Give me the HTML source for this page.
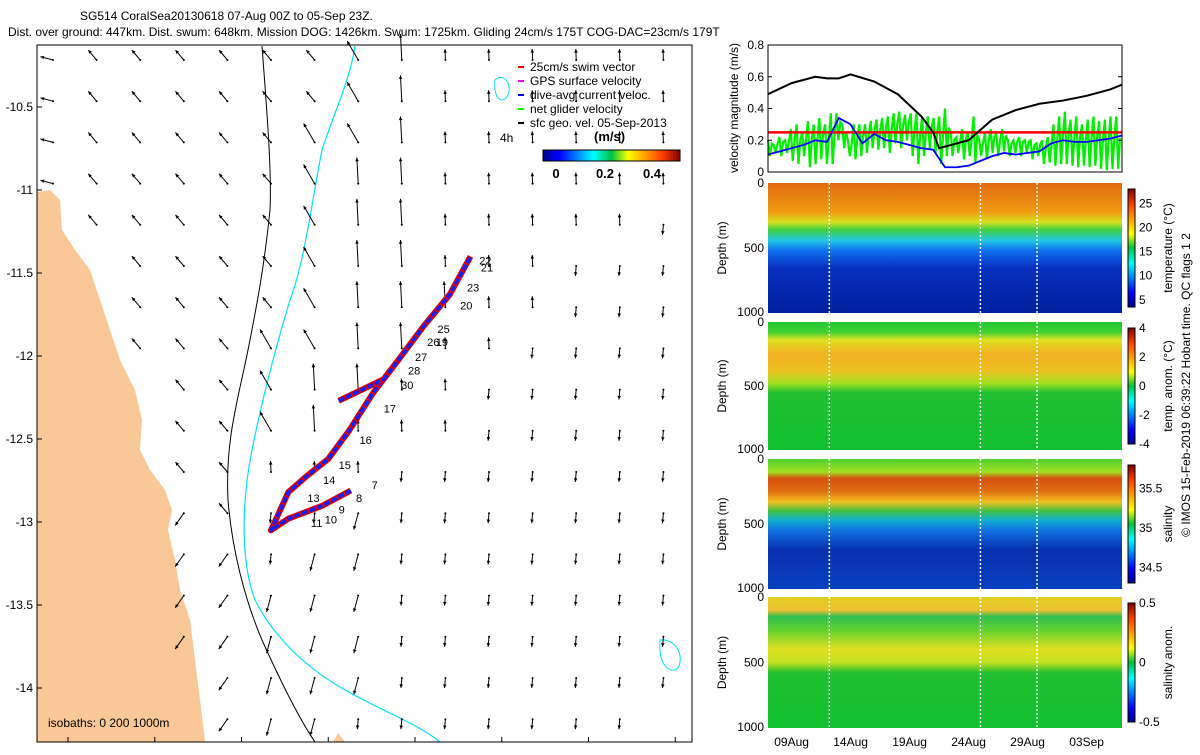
<!DOCTYPE html>
<html><head><meta charset="utf-8"><style>
body{margin:0;background:#fff;}
svg{font-family:"Liberation Sans",sans-serif;font-size:12px;}
</style></head><body>
<svg id="s" width="1200" height="750" viewBox="0 0 1200 750">
<defs>
<linearGradient id="jet" x1="0" x2="1" y1="0" y2="0">
<stop offset="0" stop-color="#00008f"/><stop offset="0.12" stop-color="#0000ff"/><stop offset="0.37" stop-color="#00ffff"/><stop offset="0.5" stop-color="#00c040"/><stop offset="0.62" stop-color="#ffff00"/><stop offset="0.87" stop-color="#ff4000"/><stop offset="1" stop-color="#800000"/></linearGradient>
<linearGradient id="jetv" x1="0" x2="0" y1="1" y2="0">
<stop offset="0" stop-color="#00008f"/><stop offset="0.12" stop-color="#0000ff"/><stop offset="0.37" stop-color="#00ffff"/><stop offset="0.5" stop-color="#00c040"/><stop offset="0.62" stop-color="#ffff00"/><stop offset="0.87" stop-color="#ff4000"/><stop offset="1" stop-color="#800000"/></linearGradient>
<linearGradient id="gT" x1="0" x2="0" y1="0" y2="1">
<stop offset="0" stop-color="#e06a10"/><stop offset="0.22" stop-color="#f09a10"/><stop offset="0.3" stop-color="#d8e020"/><stop offset="0.36" stop-color="#40d040"/><stop offset="0.44" stop-color="#20c8e0"/><stop offset="0.52" stop-color="#1070f0"/><stop offset="0.65" stop-color="#0830c0"/><stop offset="1" stop-color="#0020a0"/></linearGradient>
<linearGradient id="gTA" x1="0" x2="0" y1="0" y2="1">
<stop offset="0" stop-color="#20c830"/><stop offset="0.08" stop-color="#40d030"/><stop offset="0.14" stop-color="#e0e020"/><stop offset="0.25" stop-color="#f0b020"/><stop offset="0.38" stop-color="#f0c020"/><stop offset="0.48" stop-color="#a0e020"/><stop offset="0.55" stop-color="#20c030"/><stop offset="1" stop-color="#10c030"/></linearGradient>
<linearGradient id="gS" x1="0" x2="0" y1="0" y2="1">
<stop offset="0" stop-color="#50d030"/><stop offset="0.1" stop-color="#a0e020"/><stop offset="0.15" stop-color="#d85010"/><stop offset="0.25" stop-color="#e07010"/><stop offset="0.33" stop-color="#f0c020"/><stop offset="0.4" stop-color="#40c040"/><stop offset="0.47" stop-color="#10b0d0"/><stop offset="0.55" stop-color="#1070e0"/><stop offset="0.7" stop-color="#0830b0"/><stop offset="1" stop-color="#0840c0"/></linearGradient>
<linearGradient id="gSA" x1="0" x2="0" y1="0" y2="1">
<stop offset="0" stop-color="#e0d020"/><stop offset="0.1" stop-color="#f0c030"/><stop offset="0.15" stop-color="#30c050"/><stop offset="0.25" stop-color="#60d030"/><stop offset="0.4" stop-color="#e0e020"/><stop offset="0.5" stop-color="#c0e020"/><stop offset="0.58" stop-color="#20c030"/><stop offset="1" stop-color="#10c030"/></linearGradient>
</defs>

<text x="80" y="20">SG514 CoralSea20130618 07-Aug 00Z to 05-Sep 23Z.</text>
<text x="8" y="36">Dist. over ground: 447km. Dist. swum: 648km. Mission DOG: 1426km. Swum: 1725km. Gliding 24cm/s 175T COG-DAC=23cm/s 179T</text>

<g>
<polygon fill="#f9c896" points="37,192 50,190 60,200 62,230 75,250 90,270 100,300 110,330 120,360 135,390 142,420 140,450 150,470 165,490 172,510 168,530 175,560 180,590 190,620 195,660 200,700 205,742 37,742"/>
<polygon fill="#f9c896" points="333,742 338,733 345,742"/>
<path d="M262,46 C266,100 272,170 270,210 C265,260 258,300 248,350 C238,400 225,440 228,500 C232,550 245,600 262,640 C280,680 300,720 315,742" fill="none" stroke="#000" stroke-width="1"/>
<path d="M355,46 C350,80 335,110 322,150 C312,200 305,260 290,300 C275,350 262,400 252,450 C242,500 240,560 255,600 C275,640 310,670 345,690 C380,710 420,725 440,742" fill="none" stroke="#00e0ff" stroke-width="1.2"/>
<path d="M495,80 C505,72 512,85 508,95 C503,105 493,100 495,80Z" fill="none" stroke="#00e0ff"/>
<path d="M660,640 C675,638 685,655 678,668 C670,675 658,665 660,640Z" fill="none" stroke="#00e0ff"/>
<g id="arrows"></g>
<g id="track"></g>
<rect x="37" y="45" width="655" height="697" fill="none" stroke="#000"/>
<g id="mapticks"></g>
<text x="48" y="727">isobaths: 0   200   1000m</text>
<g>
<line x1="518" y1="67" x2="524" y2="67" stroke="#f00" stroke-width="2"/><text x="530" y="71">25cm/s swim vector</text>
<line x1="518" y1="81" x2="524" y2="81" stroke="#f0f" stroke-width="2"/><text x="530" y="85">GPS surface velocity</text>
<line x1="518" y1="95" x2="524" y2="95" stroke="#00f" stroke-width="2"/><text x="530" y="99">dive-avg current veloc.</text>
<line x1="518" y1="109" x2="524" y2="109" stroke="#0f0" stroke-width="2"/><text x="530" y="113">net glider velocity</text>
<line x1="518" y1="123" x2="524" y2="123" stroke="#000" stroke-width="2"/><text x="530" y="127">sfc geo. vel. 05-Sep-2013</text>
<text x="500" y="142">4h</text>
<text x="594" y="141" font-weight="bold" font-size="13">(m/s)</text>
<rect x="543" y="150" width="137" height="11" fill="url(#jet)" stroke="#000"/>
<text x="556" y="178" text-anchor="middle" font-weight="bold" font-size="13">0</text>
<text x="605" y="178" text-anchor="middle" font-weight="bold" font-size="13">0.2</text>
<text x="652" y="178" text-anchor="middle" font-weight="bold" font-size="13">0.4</text>
</g>
</g>

<g>
<g id="vel"></g>
<rect x="768" y="45" width="354" height="127" fill="none" stroke="#000"/>
<g id="velticks"></g>
<text transform="translate(738,108) rotate(-90)" text-anchor="middle">velocity magnitude (m/s)</text>
</g>

<g id="panels"></g>
<text transform="translate(1190,385) rotate(-90)" text-anchor="middle">© IMOS 15-Feb-2019 06:39:22 Hobart time. QC flags 1  2</text>
</svg>
<script>
const NS="http://www.w3.org/2000/svg";
function mk(t,a,p){const e=document.createElementNS(NS,t);for(const k in a)e.setAttribute(k,a[k]);(p||document.getElementById('s')).appendChild(e);return e;}

const lonTicks=[143,143.5,144,144.5,145,145.5,146,146.5];
const latTicks=[-10.5,-11,-11.5,-12,-12.5,-13,-13.5,-14];
const lonPx=l=>68+(l-143)*173.5;
const latPx=l=>107-(l+10.5)*166;
const mt=document.getElementById('mapticks');
lonTicks.forEach(l=>{const x=lonPx(l);
 mk('line',{x1:x,x2:x,y1:742,y2:737,stroke:'#000'},mt);
 const t=mk('text',{x:x,y:760,'text-anchor':'middle'},mt);t.textContent=l;
 
 });
latTicks.forEach(l=>{const y=latPx(l);
 mk('line',{x1:37,x2:42,y1:y,y2:y,stroke:'#000'},mt);
 const t=mk('text',{x:33,y:y+4,'text-anchor':'end'},mt);t.textContent=l;
 
 });

const arrowRows=[
"hbbbbbbacdddddd","hbbbbbbacdddddd","hbbbbbaacdddddd","hbbbbbaccdddddd",
".bbbbbaccddddde","..bbbbaccdddeee","..bbbbacccddeee","..bbbaaccddeeee",
"...bbaccddeeeee","...bbacdddeeeee","...bbdddeeeeeee","...gbeefeeeeeee",
"...ggeffeeeeeee","...ggfffeeeeeee","...ggfffeeeeeee","....gfffeeeeeee","....gffeeeeeee."];
const arrowCodes={a:[120,22],b:[130,13],c:[93,26],d:[92,11],e:[-95,10],f:[-105,17],g:[-125,15],h:[165,13]};
const ag=document.getElementById('arrows');
arrowRows.forEach((row,j)=>{[...row].forEach((c,i)=>{
 if(!arrowCodes[c])return;
 const x=53+i*43.6,y=60+j*41.2,[ang,L]=arrowCodes[c],r=ang*Math.PI/180;
 const x2=x+L*Math.cos(r),y2=y-L*Math.sin(r);
 const g=mk('g',{},ag);
 
 
 mk('line',{x1:x,y1:y,x2:x2,y2:y2,stroke:'#000','stroke-width':1},g);
 const a1=r+Math.PI-0.45,a2=r+Math.PI+0.45;
 mk('polygon',{points:`${x2},${y2} ${x2+4*Math.cos(a1)},${y2-4*Math.sin(a1)} ${x2+4*Math.cos(a2)},${y2-4*Math.sin(a2)}`,fill:'#000'},g);
 mk('circle',{cx:x,cy:y,r:1,fill:'#000'},g);
});});

const trackLon=[144.63,144.47,144.27,144.17,144.27,144.38,144.5,144.62,144.76,144.9,145.05,145.2,145.32];
const trackLat=[-12.81,-12.9,-12.98,-13.05,-12.82,-12.72,-12.62,-12.45,-12.22,-12.03,-11.82,-11.63,-11.4];
const branchLon=[144.56,144.7,144.82];
const branchLat=[-12.27,-12.2,-12.14];
const tg=document.getElementById('track');
function poly(lo,la,name){
 const pts=lo.map((l,i)=>lonPx(l)+','+latPx(la[i])).join(' ');
 const b=mk('polyline',{points:pts,fill:'none',stroke:'#e00000','stroke-width':6,'stroke-linejoin':'round'},tg);
 
 
 const p=mk('polyline',{points:pts,fill:'none',stroke:'#1020ff','stroke-width':3.5,'stroke-linejoin':'round','stroke-dasharray':'6 2'},tg);
 
 }
poly(trackLon,trackLat,'glider-track');
poly(branchLon,branchLat,'glider-track-branch');
const dayLabels=["22","21","23","20","25","26","19","27","28","30","17","16","15","14","13","7","8","9","10","11"];
const dayLon=[145.37,145.38,145.3,145.26,145.13,145.07,145.12,145.0,144.96,144.92,144.82,144.68,144.56,144.47,144.38,144.75,144.66,144.56,144.48,144.4];
const dayLat=[-11.45,-11.49,-11.61,-11.72,-11.86,-11.94,-11.94,-12.03,-12.11,-12.2,-12.34,-12.53,-12.68,-12.77,-12.88,-12.8,-12.88,-12.95,-13.01,-13.03];
dayLabels.forEach((d,i)=>{const t=mk('text',{x:lonPx(dayLon[i]),y:latPx(dayLat[i]),'font-size':11},tg);t.textContent=d;
 
 });

const X0=768,X1=1122,DAYS=30;
const dx=d=>X0+d*(X1-X0)/DAYS;
const vy=v=>172-v*(127/0.8);
const blackDays=[0,2,4,5,6,7,9,11,13,14,14.5,17,19,21,23,25,27,29,30];
const blackVals=[0.49,0.56,0.6,0.59,0.59,0.615,0.57,0.49,0.35,0.25,0.15,0.2,0.33,0.39,0.43,0.45,0.48,0.52,0.55];
const blueVals=[0.11,0.13,0.15,0.17,0.2,0.19,0.34,0.3,0.18,0.24,0.2,0.19,0.17,0.15,0.14,0.03,0.03,0.04,0.07,0.1,0.12,0.11,0.12,0.13,0.18,0.2,0.19,0.19,0.2,0.21,0.23];
const greenHi=[0.2,0.17,0.22,0.2,0.27,0.3,0.25,0.32,0.3,0.34,0.3,0.37,0.37,0.3,0.2,0.3,0.3,0.3,0.32,0.33,0.34,0.35,0.37,0.38,0.36,0.37,0.37,0.35,0.35,0.34,0.35,0.4,0.25,0.22,0.27,0.25,0.35,0.2,0.25,0.27,0.24,0.27,0.2,0.2,0.22,0.2,0.2,0.18,0.2,0.22,0.3,0.35,0.38,0.33,0.35,0.3,0.33,0.35,0.32,0.33,0.35,0.35];
const greenLo=[0.1,0.12,0.1,0.12,0.07,0.05,0.1,0.03,0.05,0.08,0.05,0.05,0.2,0.15,0.1,0.08,0.1,0.12,0.15,0.14,0.15,0.12,0.18,0.15,0.2,0.1,0.05,0.1,0.15,0.12,0.05,0.1,0.1,0.12,0.08,0.1,0.06,0.1,0.08,0.12,0.1,0.13,0.1,0.12,0.1,0.12,0.08,0.1,0.05,0.06,0.04,0.05,0.05,0.04,0.03,0.04,0.03,0.04,0.02,0.01,0.02,0.02];
const swimVal=0.25;
const velTicks=[0,0.2,0.4,0.6,0.8];
const vg=document.getElementById('vel');
const n=greenHi.length, st=(X1-X0)/n;
let gpts=[];
greenHi.forEach((h,i)=>{const x=dx(i*DAYS/n);
 gpts.push(x+','+vy(h), (x+st*0.33)+','+vy(greenLo[i]), (x+st*0.66)+','+vy((h+greenLo[i])/2+0.03));});
const gl=mk('polyline',{points:gpts.join(' '),fill:'none',stroke:'#00f000','stroke-width':2.2,'stroke-linejoin':'miter'},vg);


const sw=mk('line',{x1:dx(0),x2:dx(DAYS),y1:vy(swimVal),y2:vy(swimVal),stroke:'#f00','stroke-width':2.5},vg);


const bl=mk('polyline',{points:blueVals.map((v,i)=>dx(i*DAYS/(blueVals.length-1))+','+vy(v)).join(' '),fill:'none',stroke:'#0000ff','stroke-width':1.8},vg);


const bk=mk('polyline',{points:blackDays.map((d,i)=>dx(d)+','+vy(blackVals[i])).join(' '),fill:'none',stroke:'#000','stroke-width':2},vg);


const vt=document.getElementById('velticks');
velTicks.forEach(v=>{const y=vy(v);mk('line',{x1:X0,x2:X0+4,y1:y,y2:y,stroke:'#000'},vt);mk('line',{x1:X1-4,x2:X1,y1:y,y2:y,stroke:'#000'},vt);
 const t=mk('text',{x:X0-4,y:y+4,'text-anchor':'end'},vt);t.textContent=v;
 
 });

const panels=[
 {name:'temperature',y0:183,y1:313,grad:'gT',label:'temperature (°C)',cb:[5,10,15,20,25],cmin:3.5,cmax:28},
 {name:'temperature-anomaly',y0:322,y1:450,grad:'gTA',label:'temp. anom. (°C)',cb:[-4,-2,0,2,4],cmin:-4,cmax:4},
 {name:'salinity',y0:459,y1:589,grad:'gS',label:'salinity',cb:[34.5,35,35.5],cmin:34.3,cmax:35.8},
 {name:'salinity-anomaly',y0:597,y1:728,grad:'gSA',label:'salinity anom.',cb:[-0.5,0,0.5],cmin:-0.5,cmax:0.5}];
const depthTicks=[0,500,1000];
const gapDays=[5.2,18,22.8];
const dateLabels=["09Aug","14Aug","19Aug","24Aug","29Aug","03Sep"];
const dateDays=[2,7,12,17,22,27];
const pg=document.getElementById('panels');
panels.forEach(p=>{
 const g=mk('g',{},pg);
 
 
 mk('rect',{x:X0,y:p.y0,width:X1-X0,height:p.y1-p.y0,fill:`url(#${p.grad})`},g);
 gapDays.forEach(d=>mk('line',{x1:dx(d),x2:dx(d),y1:p.y0,y2:p.y1,stroke:'#fff','stroke-width':1.5,'stroke-dasharray':'2 2'},g));
 const dy=d=>p.y0+d/1000*(p.y1-p.y0);
 depthTicks.forEach(d=>{const t=mk('text',{x:X0-4,y:Math.min(dy(d)+4,p.y1+3),'text-anchor':'end'},g);t.textContent=d;
  
  });
 const yl=mk('text',{transform:`translate(726,${(p.y0+p.y1)/2}) rotate(-90)`,'text-anchor':'middle'},g);yl.textContent='Depth (m)';
 
 
 const cy0=p.y0+6,cy1=p.y1-6;
 const cb=mk('rect',{x:1128,y:cy0,width:7,height:cy1-cy0,fill:'url(#jetv)',stroke:'#000'},g);
 
 
 p.cb.forEach(v=>{const y=cy1-(v-p.cmin)/(p.cmax-p.cmin)*(cy1-cy0);
  const t=mk('text',{x:1139,y:y+4},g);t.textContent=v;
  
  });
 const cl=mk('text',{transform:`translate(1172,${(p.y0+p.y1)/2}) rotate(-90)`,'text-anchor':'middle'},g);cl.textContent=p.label;
 
 
});
dateLabels.forEach((l,i)=>{const t=mk('text',{x:dx(dateDays[i]),y:746,'text-anchor':'middle'},pg);t.textContent=l;
 
 });
</script>
</body></html>
